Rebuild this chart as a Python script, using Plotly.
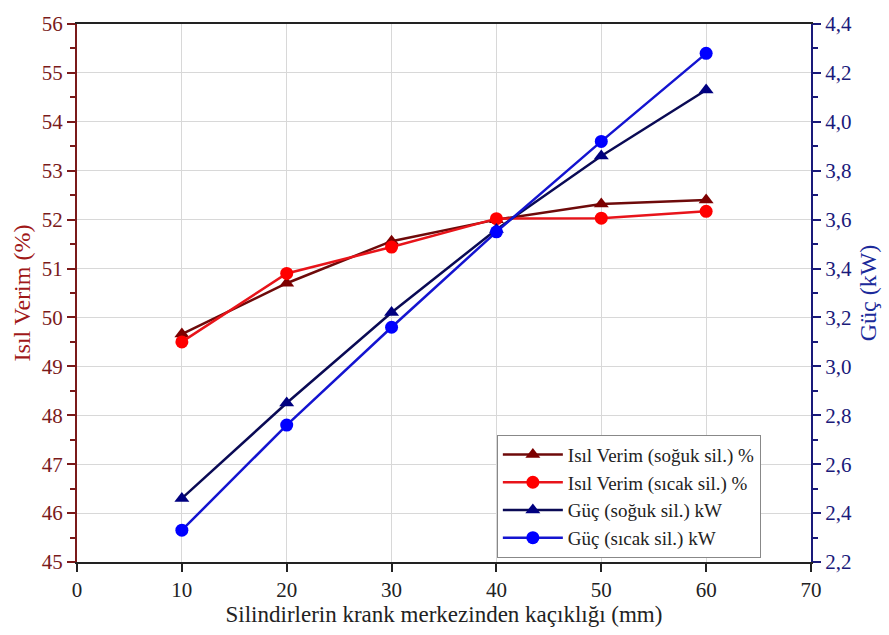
import plotly.graph_objects as go

x_mm = [10, 20, 30, 40, 50, 60]
isil_soguk = [49.66, 50.70, 51.56, 52.00, 52.32, 52.40]
isil_sicak = [49.50, 50.90, 51.44, 52.02, 52.03, 52.17]
guc_soguk = [2.46, 2.85, 3.22, 3.56, 3.86, 4.13]
guc_sicak = [2.33, 2.76, 3.16, 3.55, 3.92, 4.28]

names = ["Isıl Verim (soğuk sil.) %", "Isıl Verim (sıcak sil.) %",
         "Güç (soğuk sil.) kW", "Güç (sıcak sil.) kW"]

FONT = "Liberation Serif"
MAROON = "#7a1a1a"
NAVY = "#1a1a7a"

fig = go.Figure()
fig.add_trace(go.Scatter(x=x_mm, y=isil_soguk, name=names[0], mode="lines+markers",
                         line=dict(color="#6e0a0a", width=2.5),
                         marker=dict(symbol="triangle-up", size=13, color="#7d0000")))
fig.add_trace(go.Scatter(x=x_mm, y=isil_sicak, name=names[1], mode="lines+markers",
                         line=dict(color="#e8141a", width=2.5),
                         marker=dict(symbol="circle", size=13, color="#ff0000")))
fig.add_trace(go.Scatter(x=x_mm, y=guc_soguk, name=names[2], mode="lines+markers", yaxis="y2",
                         line=dict(color="#0a0a55", width=2.5),
                         marker=dict(symbol="triangle-up", size=13, color="#000080")))
fig.add_trace(go.Scatter(x=x_mm, y=guc_sicak, name=names[3], mode="lines+markers", yaxis="y2",
                         line=dict(color="#1414d0", width=2.5),
                         marker=dict(symbol="circle", size=13, color="#0000ff")))

fig.update_layout(
    width=889, height=635,
    margin=dict(l=77, r=78, t=14, b=73),
    paper_bgcolor="white", plot_bgcolor="white",
    separators=", ",
    font=dict(family=FONT, size=20, color="#222"),
    showlegend=True,
    legend=dict(x=0.572, y=0.008, xanchor="left", yanchor="bottom",
                bgcolor="white", bordercolor="#888", borderwidth=1,
                font=dict(family=FONT, size=19, color="#222"),
                tracegroupgap=0, itemwidth=60),
    xaxis=dict(range=[0, 70], dtick=10, tick0=0,
               showline=True, linecolor="#222", linewidth=2, mirror=True,
               ticks="outside", ticklen=8, tickwidth=2, tickcolor="#222",
               showgrid=True, gridcolor="#d8d8d8", gridwidth=1, zeroline=False,
               tickfont=dict(family=FONT, size=21, color="#222"),
               title=dict(text="Silindirlerin krank merkezinden kaçıklığı (mm)",
                          font=dict(family=FONT, size=23, color="#222"), standoff=2)),
    yaxis=dict(range=[45, 56], dtick=1,
               showline=True, linecolor=MAROON, linewidth=2,
               ticks="outside", ticklen=8, tickwidth=2, tickcolor=MAROON,
               minor=dict(ticks="outside", ticklen=5, tickwidth=2, tickcolor=MAROON, dtick=0.5, showgrid=False),
               showgrid=True, gridcolor="#d8d8d8", gridwidth=1, zeroline=False,
               tickfont=dict(family=FONT, size=21, color=MAROON),
               title=dict(text="Isıl Verim (%)", font=dict(family=FONT, size=24, color="#a01818"), standoff=4)),
    yaxis2=dict(range=[2.2, 4.4], dtick=0.2, tick0=2.2, tickformat=".1f",
                overlaying="y", side="right",
                showline=True, linecolor=NAVY, linewidth=2,
                ticks="outside", ticklen=8, tickwidth=2, tickcolor=NAVY,
                minor=dict(ticks="outside", ticklen=5, tickwidth=2, tickcolor=NAVY, dtick=0.1, showgrid=False),
                showgrid=False, zeroline=False,
                tickfont=dict(family=FONT, size=21, color=NAVY),
                title=dict(text="Güç (kW)", font=dict(family=FONT, size=24, color="#1c2a9a"), standoff=8)),
)

fig.write_html("out.html")
